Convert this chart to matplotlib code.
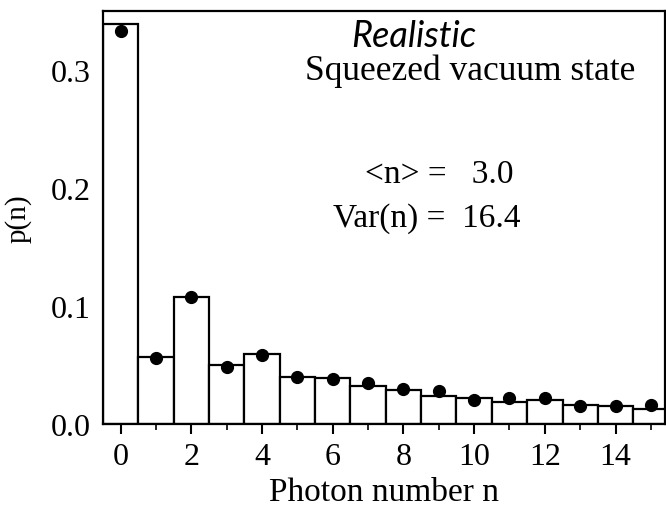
import matplotlib
matplotlib.use("Agg")
import matplotlib.pyplot as plt
from matplotlib.ticker import MultipleLocator

photon_n = list(range(16))
bar_heights = [0.339, 0.057, 0.108, 0.050, 0.059, 0.040, 0.039, 0.032,
               0.029, 0.024, 0.022, 0.019, 0.020, 0.016, 0.015, 0.013]
measured = [0.333, 0.0557, 0.108, 0.0486, 0.0587, 0.040, 0.038, 0.035,
            0.0294, 0.028, 0.020, 0.022, 0.022, 0.0155, 0.015, 0.0164]
xticks = [0, 2, 4, 6, 8, 10, 12, 14]
yticks = [0.0, 0.1, 0.2, 0.3]
ytick_labels = ["0.0", "0.1", "0.2", "0.3"]

serif = "Liberation Serif"
fig = plt.figure(figsize=(6.66, 5.10), dpi=100)
ax = fig.add_axes([0.1547, 0.1667, 0.8438, 0.8098])

ax.bar(photon_n, bar_heights, width=1.0, color="white", edgecolor="black",
       linewidth=1.6, zorder=2)
ax.plot(photon_n, measured, linestyle="none", marker="o", markersize=8.5,
        color="black", zorder=3)

ax.set_xlim(-0.5, 15.4)
ax.set_ylim(0, 0.35)
ax.set_xticks(xticks)
ax.set_xticklabels([str(v) for v in xticks], fontfamily=serif, fontsize=23)
ax.xaxis.set_minor_locator(MultipleLocator(1))
ax.set_yticks(yticks)
ax.set_yticklabels(ytick_labels, fontfamily=serif, fontsize=23)
ax.yaxis.set_minor_locator(MultipleLocator(0.05))

ax.tick_params(axis="x", which="major", direction="out", length=7, width=1.5, pad=6)
ax.tick_params(axis="x", which="minor", direction="out", length=4, width=1.2)
ax.tick_params(axis="y", which="major", direction="in", length=11, width=1.5, pad=9)
ax.tick_params(axis="y", which="minor", direction="in", length=5, width=1.2)
for s in ax.spines.values():
    s.set_linewidth(1.6)

ax.set_xlabel("Photon number n", fontfamily=serif, fontsize=24, labelpad=4)
ax.set_ylabel("p(n)", fontfamily=serif, fontsize=21, labelpad=14)

ax.text(8.3, 0.329, "Realistic", fontfamily="Lato", style="italic",
        fontsize=26, ha="center", va="center")
ax.text(9.9, 0.300, "Squeezed vacuum state", fontfamily=serif,
        fontsize=25.5, ha="center", va="center")
ax.text(6.9, 0.212, "<n> =   3.0", fontfamily=serif, fontsize=24,
        ha="left", va="center")
ax.text(6.0, 0.175, "Var(n) =  16.4", fontfamily=serif, fontsize=24,
        ha="left", va="center")

fig.savefig("out.png", dpi=100)
